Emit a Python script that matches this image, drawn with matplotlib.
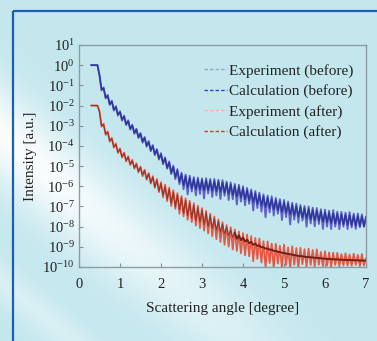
import numpy as np
import matplotlib
matplotlib.use("Agg")
import matplotlib.pyplot as plt
from matplotlib.lines import Line2D

# ---------------- data (log10 of intensity) ----------------
angle = [0.30, 0.35, 0.40, 0.45, 0.50, 0.55, 0.60, 0.65, 0.70, 0.75,
         0.80, 0.85, 0.90, 0.95, 1.00, 1.05, 1.10, 1.15, 1.20, 1.25,
         1.30, 1.35, 1.40, 1.45, 1.50, 1.55, 1.60, 1.65, 1.70, 1.75,
         1.80, 1.85, 1.90, 1.95, 2.00, 2.05, 2.10, 2.15, 2.20, 2.25,
         2.30, 2.35, 2.40, 2.45, 2.50, 2.55, 2.60, 2.65, 2.70, 2.75,
         2.80, 2.85, 2.90, 2.95, 3.00, 3.05, 3.10, 3.15, 3.20, 3.25,
         3.30, 3.35, 3.40, 3.45, 3.50, 3.55, 3.60, 3.65, 3.70, 3.75,
         3.80, 3.85, 3.90, 3.95, 4.00, 4.05, 4.10, 4.15, 4.20, 4.25,
         4.30, 4.35, 4.40, 4.45, 4.50, 4.55, 4.60, 4.65, 4.70, 4.75,
         4.80, 4.85, 4.90, 4.95, 5.00, 5.05, 5.10, 5.15, 5.20, 5.25,
         5.30, 5.35, 5.40, 5.45, 5.50, 5.55, 5.60, 5.65, 5.70, 5.75,
         5.80, 5.85, 5.90, 5.95, 6.00, 6.05, 6.10, 6.15, 6.20, 6.25,
         6.30, 6.35, 6.40, 6.45, 6.50, 6.55, 6.60, 6.65, 6.70, 6.75,
         6.80, 6.85, 6.90, 6.95, 7.00]

exp_before = [0.00, 0.00, 0.00, 0.00, -0.50, -1.25, -1.10, -1.65, -1.47, -1.97,
              -1.76, -2.25, -2.03, -2.50, -2.28, -2.75, -2.50, -2.97, -2.73, -3.19,
              -2.95, -3.40, -3.15, -3.61, -3.36, -3.84, -3.56, -4.04, -3.76, -4.26,
              -3.96, -4.46, -4.16, -4.68, -4.36, -4.91, -4.57, -5.13, -4.77, -5.40,
              -4.98, -5.65, -5.15, -5.90, -5.33, -6.15, -5.42, -6.40, -5.48, -6.26,
              -5.55, -6.45, -5.57, -6.38, -5.61, -6.60, -5.60, -6.36, -5.64, -6.53,
              -5.64, -6.45, -5.68, -6.63, -5.70, -6.47, -5.77, -6.68, -5.81, -6.64,
              -5.89, -6.90, -5.93, -6.76, -6.00, -6.94, -6.08, -6.87, -6.16, -7.20,
              -6.24, -7.08, -6.32, -7.26, -6.40, -7.53, -6.46, -7.29, -6.50, -7.45,
              -6.58, -7.36, -6.64, -7.67, -6.68, -7.53, -6.76, -7.89, -6.82, -7.65,
              -6.86, -7.80, -6.93, -7.70, -6.98, -8.00, -7.00, -7.84, -7.06, -7.98,
              -7.08, -7.87, -7.14, -8.11, -7.16, -8.00, -7.21, -8.12, -7.18, -8.00,
              -7.26, -8.12, -7.27, -8.00, -7.31, -8.12, -7.28, -8.04, -7.35, -8.11,
              -7.35, -8.03, -7.39, -8.00, -7.55]

calc_before = [0.00, 0.00, 0.00, 0.00, -0.50, -1.20, -1.15, -1.60, -1.52, -1.92,
               -1.81, -2.20, -2.08, -2.45, -2.33, -2.70, -2.55, -2.92, -2.78, -3.14,
               -3.00, -3.35, -3.20, -3.56, -3.41, -3.78, -3.61, -3.98, -3.81, -4.20,
               -4.01, -4.40, -4.21, -4.62, -4.41, -4.84, -4.62, -5.08, -4.83, -5.32,
               -5.04, -5.55, -5.22, -5.78, -5.40, -5.95, -5.50, -6.05, -5.58, -6.11,
               -5.63, -6.15, -5.67, -6.18, -5.69, -6.20, -5.70, -6.21, -5.72, -6.23,
               -5.74, -6.25, -5.76, -6.28, -5.80, -6.32, -5.85, -6.38, -5.91, -6.44,
               -5.97, -6.50, -6.03, -6.56, -6.10, -6.64, -6.18, -6.72, -6.26, -6.80,
               -6.34, -6.88, -6.42, -6.96, -6.50, -7.03, -6.56, -7.09, -6.62, -7.15,
               -6.68, -7.21, -6.74, -7.27, -6.80, -7.33, -6.86, -7.39, -6.92, -7.45,
               -6.98, -7.50, -7.03, -7.55, -7.08, -7.60, -7.12, -7.64, -7.16, -7.68,
               -7.20, -7.72, -7.24, -7.76, -7.28, -7.80, -7.31, -7.82, -7.33, -7.85,
               -7.36, -7.87, -7.39, -7.90, -7.41, -7.92, -7.43, -7.94, -7.45, -7.96,
               -7.47, -7.98, -7.49, -8.00, -7.50]

exp_after = [-2.00, -2.00, -2.00, -2.00, -2.30, -3.05, -2.90, -3.45, -3.28, -3.79,
             -3.60, -4.09, -3.88, -4.35, -4.12, -4.58, -4.33, -4.77, -4.51, -4.95,
             -4.69, -5.13, -4.86, -5.32, -5.02, -5.50, -5.18, -5.68, -5.34, -5.87,
             -5.50, -6.08, -5.64, -6.29, -5.80, -6.55, -5.92, -6.74, -6.06, -6.98,
             -6.20, -7.12, -6.34, -7.36, -6.48, -7.49, -6.60, -7.66, -6.72, -7.78,
             -6.84, -7.95, -6.96, -8.07, -7.08, -8.20, -7.22, -8.34, -7.36, -8.48,
             -7.50, -8.62, -7.64, -8.76, -7.78, -8.90, -7.92, -8.99, -8.03, -9.13,
             -8.14, -9.20, -8.24, -9.32, -8.32, -9.42, -8.39, -9.47, -8.47, -9.72,
             -8.56, -9.60, -8.59, -9.78, -8.72, -10.05, -8.73, -9.81, -8.84, -10.07,
             -8.85, -9.83, -8.95, -10.07, -8.89, -9.91, -9.03, -10.05, -8.97, -9.89,
             -9.06, -10.03, -9.05, -9.86, -9.12, -9.98, -9.09, -9.90, -9.16, -9.97,
             -9.13, -9.89, -9.25, -9.96, -9.22, -9.93, -9.28, -9.99, -9.29, -9.90,
             -9.30, -9.96, -9.36, -9.92, -9.32, -9.93, -9.38, -9.94, -9.34, -9.90,
             -9.40, -9.96, -9.36, -9.92, -9.57]

calc_after = [-2.00, -2.00, -2.00, -2.00, -2.30, -3.00, -2.95, -3.40, -3.33, -3.74,
              -3.65, -4.04, -3.93, -4.30, -4.17, -4.53, -4.38, -4.72, -4.56, -4.90,
              -4.74, -5.08, -4.91, -5.26, -5.07, -5.44, -5.23, -5.62, -5.39, -5.82,
              -5.55, -6.03, -5.71, -6.24, -5.87, -6.45, -6.02, -6.64, -6.16, -6.83,
              -6.30, -7.02, -6.44, -7.16, -6.58, -7.34, -6.70, -7.46, -6.82, -7.58,
              -6.94, -7.70, -7.06, -7.77, -7.18, -7.90, -7.32, -7.99, -7.46, -8.08,
              -7.60, -8.17, -7.74, -8.26, -7.88, -8.35, -8.02, -8.44, -8.17, -8.53,
              -8.30, -8.60, -8.43, -8.67, -8.54, -8.74, -8.65, -8.82, -8.75, -8.90,
              -8.84, -8.96, -8.93, -9.03, -9.02, -9.09, -9.08, -9.14, -9.14, -9.20,
              -9.20, -9.25, -9.26, -9.29, -9.31, -9.33, -9.35, -9.37, -9.39, -9.41,
              -9.43, -9.45, -9.46, -9.47, -9.49, -9.50, -9.51, -9.52, -9.53, -9.54,
              -9.55, -9.56, -9.57, -9.58, -9.59, -9.60, -9.60, -9.61, -9.62, -9.62,
              -9.63, -9.63, -9.64, -9.64, -9.65, -9.65, -9.66, -9.66, -9.67, -9.67,
              -9.67, -9.68, -9.68, -9.68, -9.68]

series_labels = ["Experiment (before)", "Calculation (before)",
                 "Experiment (after)", "Calculation (after)"]
xticks = [0, 1, 2, 3, 4, 5, 6, 7]
ytick_exp = [1, 0, -1, -2, -3, -4, -5, -6, -7, -8, -9, -10]

# ---------------- styling ----------------
SERIF = ["Liberation Serif", "DejaVu Serif"]
plt.rcParams["font.family"] = SERIF
plt.rcParams["mathtext.fontset"] = "custom"
plt.rcParams["mathtext.rm"] = "Liberation Serif"
plt.rcParams["mathtext.it"] = "Liberation Serif:italic"

W, H = 377, 341
fig = plt.figure(figsize=(W / 100, H / 100), dpi=100)

# background: cyan panel with soft white diagonal glow
bg = fig.add_axes([0, 0, 1, 1], zorder=-10)
yy, xx = np.mgrid[0:H, 0:W].astype(float)
cyan = np.array([196, 231, 238]) / 255.0
white = np.array([1.0, 1.0, 1.0])
ux, uy = 230.0, 191.0
n = np.hypot(ux, uy)
d1 = ((xx - 20) * uy - (yy - 150) * ux) / n
w1 = 0.9 * np.exp(-(d1 / 40.0) ** 2)
d2 = ((xx - 0) * uy - (yy - 280) * ux) / n
w2 = 0.35 * np.exp(-(d2 / 18.0) ** 2)
w = np.clip(w1 + w2, 0, 1)
w *= np.clip(1.15 - xx / 320.0, 0, 1)
img = cyan[None, None, :] * (1 - w[..., None]) + white[None, None, :] * w[..., None]
bg.imshow(img, extent=[0, W, H, 0], aspect="auto", interpolation="bilinear")
bg.set_xlim(0, W)
bg.set_ylim(H, 0)
bg.axis("off")
bg.plot([12.5, 12.5], [10.5, H], color="#1c5fae", lw=1.6, solid_capstyle="butt")
bg.plot([12.5, W], [10.5, 10.5], color="#1c5fae", lw=1.6, solid_capstyle="butt")

ax = fig.add_axes([79 / W, 1 - 267 / H, (366 - 79) / W, (267 - 45) / H])
ax.set_facecolor("none")

x = np.array(angle)
col_exp_b = "#6262c4"
col_calc_b = "#2f369a"
col_exp_a = "#e84a30"
col_calc_a = "#8a3026"

ax.plot(x, 10.0 ** np.array(exp_before), color=col_exp_b, lw=1.4)
ax.plot(x, 10.0 ** np.array(calc_before), color=col_calc_b, lw=1.1)
ax.plot(x, 10.0 ** np.array(exp_after), color=col_exp_a, lw=1.3, alpha=0.9)
ax.plot(x, 10.0 ** np.array(calc_after), color=col_calc_a, lw=0.9, alpha=0.85)
ax.plot(x[70:], 10.0 ** np.array(calc_after[70:]), color="#6e2018", lw=1.3)

ax.set_yscale("log")
ax.set_xlim(0, 7)
ax.set_ylim(1e-10, 1e1)
ax.set_xticks(xticks)
ax.set_xticklabels([str(t) for t in xticks])
ax.set_yticks([10.0 ** e for e in ytick_exp])
ax.set_yticklabels([r"$\mathregular{10^{%d}}$" % e for e in ytick_exp])
ax.yaxis.set_minor_locator(matplotlib.ticker.NullLocator())
ax.tick_params(direction="in", length=3, width=0.8, color="#7f8f95",
               labelsize=10.5, labelcolor="#222222", pad=3)
ax.tick_params(axis="x", pad=8)
for s in ax.spines.values():
    s.set_color("#8d9ca2")
    s.set_linewidth(1.0)

ax.set_xlabel("Scattering angle [degree]", fontsize=11, color="#222222", labelpad=8)
ax.set_ylabel("Intensity [a.u.]", fontsize=11, color="#222222", labelpad=4)

handles = [Line2D([], [], color="#a0a0c8", lw=1.0, ls=(0, (2.5, 1.5))),
           Line2D([], [], color="#3048c0", lw=1.0, ls=(0, (2.5, 1.5))),
           Line2D([], [], color="#f4b89c", lw=1.0, ls=(0, (2.5, 1.5))),
           Line2D([], [], color="#e83420", lw=1.0, ls=(0, (2.5, 1.5)))]
leg = ax.legend(handles, series_labels, loc="upper left", frameon=False,
                fontsize=11, handlelength=1.5, handletextpad=0.15,
                labelspacing=0.42, borderaxespad=0, borderpad=0,
                bbox_to_anchor=((204 - 79) / 287, (267 - 64) / 222))
for t in leg.get_texts():
    t.set_color("#222222")

fig.savefig("out.png", dpi=100)
